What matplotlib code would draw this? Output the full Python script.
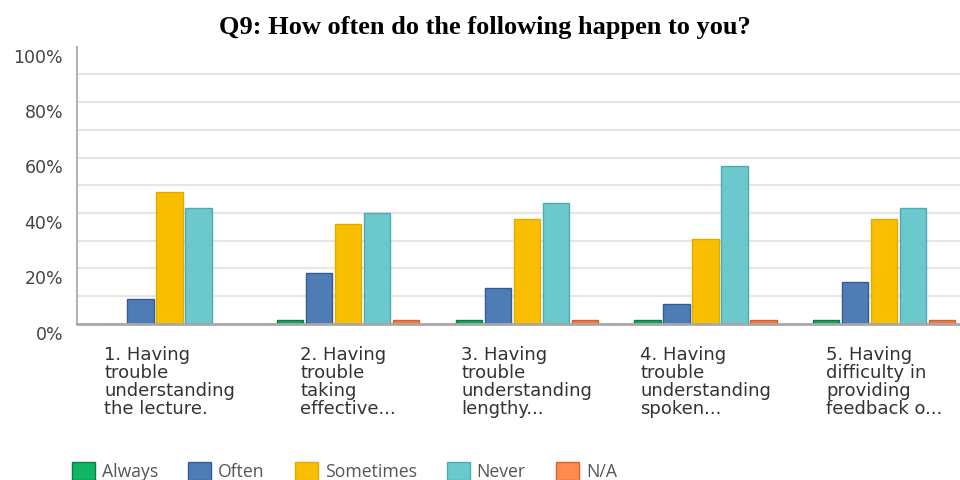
import numpy as np
import matplotlib
matplotlib.use("Agg")
import matplotlib.pyplot as plt
from matplotlib.transforms import ScaledTranslation
from matplotlib.patches import Patch

plt.rcParams["font.family"] = ["DejaVu Sans"]

title = "Q9: How often do the following happen to you?"
categories = [
    "1. Having\ntrouble\nunderstanding\nthe lecture.",
    "2. Having\ntrouble\ntaking\neffective...",
    "3. Having\ntrouble\nunderstanding\nlengthy...",
    "4. Having\ntrouble\nunderstanding\nspoken...",
    "5. Having\ndifficulty in\nproviding\nfeedback o...",
]
series_names = ["Always", "Often", "Sometimes", "Never", "N/A"]
always = [0.0, 1.5, 1.5, 1.5, 1.5]
often = [8.8, 18.4, 12.9, 7.0, 14.9]
sometimes = [47.5, 36.0, 37.9, 30.6, 37.9]
never = [41.9, 40.0, 43.4, 57.1, 41.9]
na = [0.0, 1.5, 1.5, 1.5, 1.5]
yticks = [0, 20, 40, 60, 80, 100]
ytick_labels = ["0%", "20%", "40%", "60%", "80%", "100%"]

fills = ["#12a55c", "#507cb6", "#f9be00", "#6bc8cd", "#f47b42"]
edges = ["#0c7d42", "#2f5c98", "#e3aa00", "#4eaab0", "#d8612b"]
legend_fills = ["#12b566", "#507cb6", "#f9be00", "#6bc8cd", "#ff8b4f"]

fig = plt.figure(figsize=(9.6, 4.81), dpi=100)
ax = fig.add_axes([77/960, 1-324.7/481, 900/960, 277/481])

x = np.arange(len(categories))
step = 0.1625
width = 0.148
data = [always, often, sometimes, never, na]
for k, vals in enumerate(data):
    ax.bar(x + (k-2)*step, vals, width=width, color=fills[k], edgecolor=edges[k],
           linewidth=1.0, zorder=2)

ax.set_xlim(-0.518, 4.52)
ax.set_ylim(0, 100)
ax.set_yticks(yticks)
ax.set_yticklabels(ytick_labels)
ax.set_yticks(np.arange(10, 100, 10), minor=True)
ax.grid(axis="y", which="both", color="#e6e6e6", linewidth=1.5, zorder=0)
ax.set_axisbelow(True)
ax.yaxis.get_major_ticks()[-1].gridline.set_visible(False)
ax.tick_params(axis="y", which="both", length=0, pad=10, labelsize=12.5, labelcolor="#444444")
ax.tick_params(axis="x", length=0, pad=15, labelsize=13, labelcolor="#333333")
ax.set_xticks(x)
ax.set_xticklabels(categories, ha="center", multialignment="left", linespacing=1.02)
offset = ScaledTranslation(0, -8/100, fig.dpi_scale_trans)
for lab in ax.get_yticklabels():
    lab.set_transform(lab.get_transform() + offset)

for s in ["top", "right"]:
    ax.spines[s].set_visible(False)
ax.spines["left"].set_color("#b5b5b5")
ax.spines["left"].set_linewidth(1.5)
ax.spines["bottom"].set_color("#a8a8a8")
ax.spines["bottom"].set_linewidth(2.0)
ax.spines["bottom"].set_zorder(3)

fig.text(484.5/960, 1-34.3/481, title, ha="center", va="baseline",
         fontsize=19, fontweight="bold", family="Liberation Serif")

handles = [Patch(facecolor=legend_fills[k], edgecolor=edges[k], linewidth=1.0, label=series_names[k])
           for k in range(5)]
leg = fig.legend(handles=handles, loc="center left", bbox_to_anchor=(56/960, 1-472/481),
                 ncol=5, frameon=False, handlelength=1.3, handleheight=1.2,
                 handletextpad=0.4, columnspacing=1.7,
                 prop={"family": "Open Sans", "size": 12.7}, labelcolor="#555555")

fig.savefig("out.png", dpi=100)
